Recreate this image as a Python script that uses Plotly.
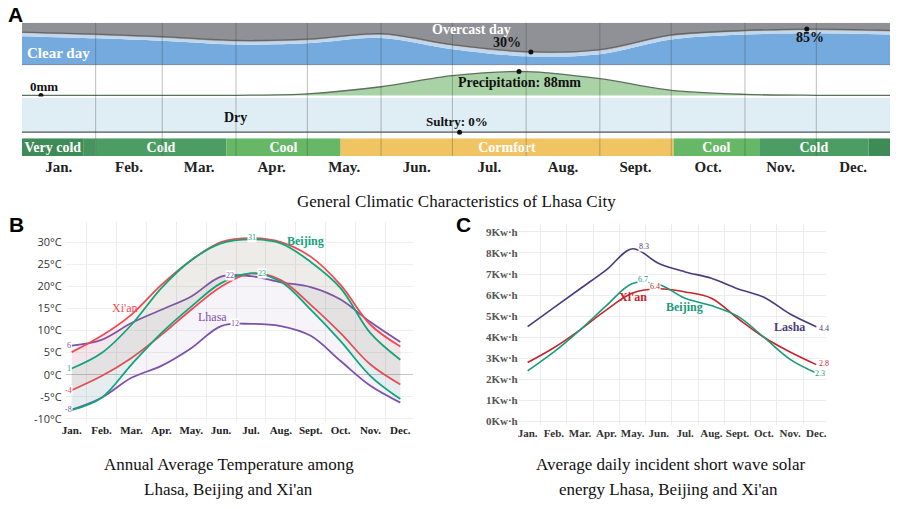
import numpy as np
import plotly.graph_objects as go

W, H = 899, 509
SERIF = "Liberation Serif"
SANS = "Liberation Sans"

# ---------------- data ----------------
months = ["Jan.", "Feb.", "Mar.", "Apr.", "May.", "Jun.", "Jul.", "Aug.", "Sept.", "Oct.", "Nov.", "Dec."]
month_days = [31, 28, 31, 30, 31, 30, 31, 31, 30, 31, 30, 31]

# Panel A: values at month boundaries (13 points, Jan 1 ... Dec 31)
clear_day = [68, 63, 57, 48, 51, 64, 37, 20, 25, 60, 72, 75, 72]
mostly_clear = [7, 7, 7, 7, 7, 7, 8, 8, 8, 8, 7, 7, 7]
partly_cloudy = [3, 3, 3, 3, 3, 3, 3, 3, 3, 3, 3, 3, 3]
precip_mm = [0, 0, 0, 0.5, 6, 32, 73, 88, 62, 19, 4, 0.5, 0]
dry_pct = [100] * 13
sultry_pct = [0] * 13

sky_mark_day = [214, 330]
sky_mark_pct = [30, 85]
precip_mark_day = [8, 209]
precip_mark_mm = [0, 88]
sultry_mark_day = [184]
sultry_mark_pct = [0]

comfort_labels = ["Very cold", "", "Cold", "Cool", "Cormfort", "Cool", "Cold", ""]
comfort_start = [0, 26, 31, 86, 134, 274, 310, 356]
comfort_end = [26, 31, 86, 134, 274, 310, 356, 365]
comfort_colors = ["#3e8b57", "#479460", "#4c9d63", "#66b866", "#f1c463", "#66b866", "#4c9d63", "#3e8b57"]

# Panel B: monthly temperature (deg C)
lhasa_high = [6.6, 7.9, 11.7, 14.7, 17.7, 22.2, 22.3, 20.9, 19.8, 17.0, 11.9, 7.4]
lhasa_low = [-7.9, -5.2, -0.7, 2.0, 6.0, 11.0, 11.5, 11.0, 8.8, 3.1, -2.5, -6.3]
xian_high = [5.1, 8.8, 13.6, 20.3, 25.9, 30.0, 30.9, 30.0, 26.7, 20.3, 11.3, 6.4]
xian_low = [-3.5, -0.3, 3.8, 9.0, 14.7, 19.9, 22.9, 21.4, 15.8, 9.4, 2.3, -2.2]
beijing_high = [1.4, 4.9, 11.3, 19.6, 25.9, 29.7, 30.6, 29.7, 25.5, 19.6, 9.4, 3.4]
beijing_low = [-8.0, -5.2, 2.3, 9.4, 15.4, 20.7, 22.9, 21.0, 14.7, 7.6, -0.3, -5.5]
temp_ticks = [-10, -5, 0, 5, 10, 15, 20, 25, 30]

# Panel C: monthly solar energy (kWh)
lasha_solar = [4.5, 5.4, 6.3, 7.2, 8.2, 7.5, 7.1, 6.8, 6.3, 5.9, 5.1, 4.5]
xian_solar = [2.8, 3.5, 4.35, 5.3, 6.1, 6.3, 6.15, 5.85, 4.9, 4.0, 3.3, 2.7]
beijing_solar = [2.4, 3.3, 4.35, 5.5, 6.55, 6.5, 5.85, 5.5, 5.0, 4.0, 2.95, 2.3]
solar_ticks = [0, 1, 2, 3, 4, 5, 6, 7, 8, 9]

# ---------------- helpers ----------------
def px(x, y):
    return x / W, 1 - y / H

def dom_x(a, b):
    return [a / W, b / W]

def dom_y(top, bottom):
    return [1 - bottom / H, 1 - top / H]

bounds = np.concatenate([[0], np.cumsum(month_days)])
mids = bounds[:-1] + np.array(month_days) / 2
midx = np.arange(12)

fig = go.Figure()

# ---------------- Panel A ----------------
overcast = [100 - a - b - c for a, b, c in zip(clear_day, mostly_clear, partly_cloudy)]
sky = [
    (clear_day, "#74aade", 0, "#74aade"),
    (mostly_clear, "#c0d7ee", 0, "#c0d7ee"),
    (partly_cloudy, "#a5a7ab", 1.3, "#666666"),
    (overcast, "#8f9196", 0, "#8f9196"),
]
for vals, fc, lw, lc in sky:
    fig.add_trace(go.Scatter(x=bounds, y=vals, stackgroup="sky", mode="lines",
                             line=dict(shape="spline", smoothing=0.9, width=lw, color=lc),
                             fillcolor=fc, xaxis="x", yaxis="y", hoverinfo="skip", showlegend=False))
fig.add_trace(go.Scatter(x=sky_mark_day, y=sky_mark_pct, mode="markers",
                         marker=dict(color="#111", size=5), xaxis="x", yaxis="y", showlegend=False))

fig.add_trace(go.Scatter(x=bounds, y=precip_mm, mode="lines", fill="tozeroy", fillcolor="#a9d3a6",
                         line=dict(shape="spline", smoothing=0.9, width=1.3, color="#5d6f5d"),
                         xaxis="x", yaxis="y2", showlegend=False))
fig.add_trace(go.Scatter(x=precip_mark_day, y=precip_mark_mm, mode="markers",
                         marker=dict(color="#111", size=5), xaxis="x", yaxis="y2", showlegend=False))

fig.add_trace(go.Scatter(x=bounds, y=sultry_pct, stackgroup="hum", mode="lines",
                         line=dict(width=1.3, color="#555"), fillcolor="rgba(0,0,0,0)",
                         xaxis="x", yaxis="y3", showlegend=False))
fig.add_trace(go.Scatter(x=bounds, y=dry_pct, stackgroup="hum", mode="lines",
                         line=dict(width=0), fillcolor="#dfedf4",
                         xaxis="x", yaxis="y3", showlegend=False))
fig.add_trace(go.Scatter(x=sultry_mark_day, y=sultry_mark_pct, mode="markers", cliponaxis=False,
                         marker=dict(color="#111", size=5), xaxis="x", yaxis="y3", showlegend=False))

widths = [e - s for s, e in zip(comfort_start, comfort_end)]
fig.add_trace(go.Bar(y=[0] * len(widths), x=widths, base=comfort_start, orientation="h",
                     width=1, marker=dict(color=comfort_colors, line=dict(width=0)),
                     text=["<b>%s</b>" % t for t in comfort_labels], textposition="inside",
                     insidetextanchor="middle", textangle=0, constraintext="none",
                     textfont=dict(family=SERIF, size=14, color="white"),
                     xaxis="x", yaxis="y4", showlegend=False, hoverinfo="skip"))

shapes = []
for d in bounds[1:12]:
    shapes.append(dict(type="line", xref="x", yref="paper", x0=d, x1=d,
                       y0=1 - 157 / H, y1=1 - 23 / H, layer="above",
                       line=dict(color="rgba(60,60,60,0.33)", width=1)))
shapes.append(dict(type="line", xref="paper", yref="paper", x0=18 / W, x1=890 / W,
                   y0=1 - 65 / H, y1=1 - 65 / H, layer="above",
                   line=dict(color="rgba(50,70,100,0.6)", width=1)))

# ---------------- Panel B ----------------
b_series = [
    ("Lhasa", lhasa_low, lhasa_high, "#7d52ab", "rgba(125,82,171,0.07)"),
    ("Xi'an", xian_low, xian_high, "#f04a52", "rgba(240,74,82,0.08)"),
    ("Beijing", beijing_low, beijing_high, "#12a57b", "rgba(18,165,123,0.07)"),
]
for name, lo, hi, col, fcol in b_series:
    fig.add_trace(go.Scatter(x=midx, y=lo, mode="lines", line=dict(color=col, width=1.8, shape="spline"),
                             xaxis="x5", yaxis="y5", showlegend=False))
    fig.add_trace(go.Scatter(x=midx, y=hi, mode="lines", line=dict(color=col, width=1.8, shape="spline"),
                             fill="tonexty", fillcolor=fcol, xaxis="x5", yaxis="y5", showlegend=False))

# ---------------- Panel C ----------------
c_series = [
    ("Lasha", lasha_solar, "#4b3b7d"),
    ("Xi'an", xian_solar, "#c4262e"),
    ("Beijing", beijing_solar, "#1a9b77"),
]
for name, vals, col in c_series:
    fig.add_trace(go.Scatter(x=midx, y=vals, mode="lines", line=dict(color=col, width=1.6, shape="spline"),
                             xaxis="x6", yaxis="y6", showlegend=False))

# ---------------- annotations ----------------
ann = []

def pa(xp, yp, text, size=14, color="#111", family=SERIF, bold=True, xanchor="center"):
    x, y = px(xp, yp)
    ann.append(dict(x=x, y=y, xref="paper", yref="paper", text=("<b>%s</b>" % text) if bold else text,
                    showarrow=False, xanchor=xanchor, yanchor="middle",
                    font=dict(family=family, size=size, color=color)))

pa(12, 15, "A", 21, "#000", SANS)
pa(13, 226, "B", 21, "#000", SANS)
pa(462, 226, "C", 21, "#000", SANS)
pa(55, 53, "Clear day", 15, "white")
pa(470, 30, "Overcast day", 14, "white")
pa(505, 43, "30%", 14)
pa(810, 38, "85%", 14)
pa(40, 87, "0mm", 13)
pa(518, 83, "Precipitation: 88mm", 14)
pa(233, 118, "Dry", 14)
pa(455, 122, "Sultry: 0%", 13)
pa(455, 203, "General Climatic Characteristics of Lhasa City", 17, "#111", SERIF, False)
pa(226, 467, "Annual Average Temperature among", 17, "#111", SERIF, False)
pa(226, 492, "Lhasa, Beijing and Xi'an", 17, "#111", SERIF, False)
pa(670, 467, "Average daily incident short wave solar", 17, "#111", SERIF, False)
pa(667, 492, "energy Lhasa, Beijing and Xi'an", 17, "#111", SERIF, False)

def da(ax, x, y, text, color, size=8, bold=False, bg="white"):
    ann.append(dict(x=x, y=y, xref=ax[0], yref=ax[1], text=("<b>%s</b>" % text) if bold else text,
                    showarrow=False, font=dict(family=SERIF, size=size, color=color),
                    bgcolor=bg, borderpad=0))

B = ("x5", "y5")
da(B, -0.1, lhasa_high[0], "6", "#7d52ab")
da(B, -0.1, beijing_high[0], "1", "#12a57b")
da(B, -0.1, xian_low[0], "-4", "#f04a52")
da(B, -0.1, lhasa_low[0], "-8", "#7d52ab")
da(B, 6.05, 31.0, "31", "#12a57b")
da(B, 5.3, 22.5, "22", "#7d52ab")
da(B, 6.37, 22.9, "23", "#12a57b")
da(B, 5.45, 11.6, "12", "#7d52ab")
da(B, 1.8, 15.0, "Xi'an", "#f04a52", 12, False, None)
da(B, 4.72, 13.0, "Lhasa", "#7d52ab", 12, False, None)
da(B, 7.83, 30.3, "Beijing", "#12a57b", 12, True, None)

C = ("x6", "y6")
da(C, 4.45, 8.33, "8.3", "#4b3b7d")
da(C, 4.4, 6.75, "6.7", "#1a9b77")
da(C, 4.85, 6.42, "6.4", "#c4262e")
da(C, 11.3, 4.4, "4.4", "#4b3b7d")
da(C, 11.3, 2.75, "2.8", "#c4262e")
da(C, 11.15, 2.3, "2.3", "#1a9b77")
da(C, 4.0, 5.9, "Xi'an", "#c4262e", 12, True, None)
da(C, 5.97, 5.45, "Beijing", "#1a9b77", 12, True, None)
da(C, 9.98, 4.5, "Lasha", "#4b3b7d", 12, True, None)

# ---------------- layout ----------------
hidden = dict(visible=False, fixedrange=True)
temp_text = ["%d°C" % t for t in temp_ticks]
solar_text = ["<b>%dKw·h</b>" % t for t in solar_ticks]
mon_bold = ["<b>%s</b>" % m for m in months]

fig.update_layout(
    width=W, height=H, margin=dict(l=0, r=0, t=0, b=0),
    paper_bgcolor="white", plot_bgcolor="white", showlegend=False,
    barmode="overlay",
    shapes=shapes, annotations=ann,
    xaxis=dict(domain=dom_x(18, 890), range=[0, 365], anchor="y4", tickvals=mids, ticktext=mon_bold,
               showgrid=False, zeroline=False, showline=False, ticks="",
               tickfont=dict(family=SERIF, size=15, color="#222")),
    yaxis=dict(domain=dom_y(23, 65), range=[0, 100], **hidden),
    yaxis2=dict(domain=dom_y(65, 97), range=[-3.67, 113.7], **hidden),
    yaxis3=dict(domain=dom_y(98, 134), range=[-3, 100], **hidden),
    yaxis4=dict(domain=dom_y(139, 157), range=[-0.5, 0.5], **hidden),

    xaxis5=dict(domain=dom_x(62, 411), range=[-0.2, 11.43], anchor="y5", tickvals=list(midx),
                ticktext=mon_bold, showgrid=False, zeroline=False, ticks="",
                tickfont=dict(family=SERIF, size=11, color="#222"),
                minor=dict(tickvals=list(np.arange(0.5, 11, 1)), showgrid=True, gridcolor="#ececec", ticks="")),
    yaxis5=dict(domain=dom_y(223, 425), range=[-10.8, 34.6], anchor="x5", tickvals=temp_ticks,
                ticktext=temp_text, showgrid=True, gridcolor="#efefef", zeroline=True,
                zerolinecolor="#c6c6c6", zerolinewidth=1, ticks="", ticklabelstandoff=3,
                tickfont=dict(family="Open Sans", size=11, color="#333")),
    yaxis7=dict(overlaying="y5", side="right", anchor="x5", range=[-10.8, 34.6], tickvals=temp_ticks,
                ticktext=temp_text, showgrid=False, zeroline=False, ticks="",
                tickfont=dict(family="Open Sans", size=11, color="#333")),

    xaxis6=dict(domain=dom_x(517, 826), range=[-0.34, 11.38], anchor="y6", tickvals=list(midx),
                ticktext=mon_bold, showgrid=False, zeroline=False, ticks="",
                tickfont=dict(family=SERIF, size=11, color="#333"),
                minor=dict(tickvals=list(np.arange(0.5, 11, 1)), showgrid=True, gridcolor="#ececec", ticks="")),
    yaxis6=dict(domain=dom_y(225, 428), range=[-0.19, 9.39], anchor="x6", tickvals=solar_ticks,
                ticktext=solar_text, showgrid=True, gridcolor="#ececec", zeroline=False, ticks="",
                tickfont=dict(family=SERIF, size=11, color="#555")),
    yaxis8=dict(overlaying="y6", side="right", anchor="x6", range=[-0.19, 9.39], tickvals=solar_ticks,
                ticktext=solar_text, showgrid=False, zeroline=False, ticks="", ticklabelstandoff=4,
                tickfont=dict(family=SERIF, size=11, color="#555")),
)

fig.write_html("out.html", config={"displayModeBar": False},
               post_script="document.body.style.margin='0px';document.body.style.overflow='hidden';")
